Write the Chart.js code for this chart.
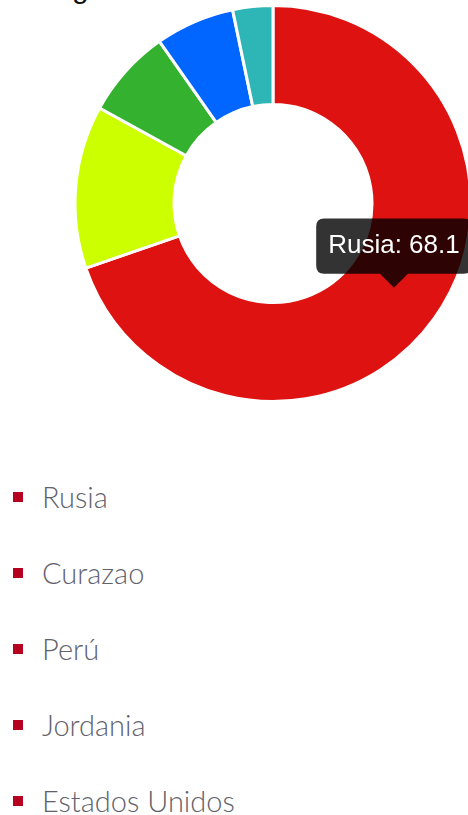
<!DOCTYPE html>
<html>
<head>
<meta charset="utf-8">
<script src="https://cdn.jsdelivr.net/npm/chart.js@4/dist/chart.umd.min.js"></script>
<style>
  html, body { margin: 0; padding: 0; overflow: hidden; background: #fff; }
  body { width: 468px; height: 815px; position: relative; }
  .title {
    position: absolute; left: 32px; top: -29px;
    font: 30px Arial, "Liberation Sans", sans-serif; color: #111; white-space: nowrap;
  }
  .wrap { position: absolute; left: 0; top: 4px; width: 546px; height: 399px; }
  #countries {
    position: absolute; left: 0; top: 459px; margin: 0; padding: 0; list-style: none;
    font-family: Lato, sans-serif; font-size: 29px; font-weight: 300; color: #62626c;
  }
  #countries li { height: 76px; line-height: 76px; padding-left: 42px; position: relative; white-space: nowrap; }
  #countries li::before {
    content: ''; position: absolute; left: 13px; top: 33px; width: 10px; height: 10px; background: #b5001f;
  }
</style>
</head>
<body>
<div class="title">Origen</div>
<div class="wrap"><canvas id="pieChart" width="546" height="399"></canvas></div>
<ul id="countries"></ul>

<script>
const countries = ['Rusia', 'Curazao', 'Perú', 'Jordania', 'Estados Unidos'];
const shares = [68.1, 13.0, 7.1, 6.3, 3.2];
const sliceColors = ['#df1212', '#ccff00', '#34b12f', '#0066ff', '#2eb5b5'];

// country list under the chart
const list = document.getElementById('countries');
countries.forEach(name => {
  const li = document.createElement('li');
  li.textContent = name;
  list.appendChild(li);
});

const ctx = document.getElementById('pieChart').getContext('2d');
const pieChart = new Chart(ctx, {
  type: 'doughnut',
  data: {
    labels: countries,
    datasets: [{
      data: shares,
      backgroundColor: sliceColors,
      borderColor: '#fff',
      borderWidth: 3,
      hoverOffset: 0
    }]
  },
  options: {
    responsive: false,
    animation: false,
    cutout: '50%',
    layout: { padding: 0 },
    plugins: {
      legend: { display: false },
      tooltip: {
        displayColors: false,
        xAlign: 'center',
        yAlign: 'bottom',
        backgroundColor: 'rgba(0,0,0,0.8)',
        bodyColor: '#fff',
        bodyFont: { family: 'Arial, "Liberation Sans", sans-serif', size: 26 },
        padding: 12,
        cornerRadius: 8,
        caretSize: 14,
        callbacks: {
          title: () => '',
          label: (context) => `${context.label}: ${context.formattedValue}`
        }
      }
    }
  }
});

// show the tooltip on the first slice, as in the screenshot
pieChart.tooltip.setActiveElements([{ datasetIndex: 0, index: 0 }], { x: 0, y: 0 });
pieChart.update();
</script>
</body>
</html>
